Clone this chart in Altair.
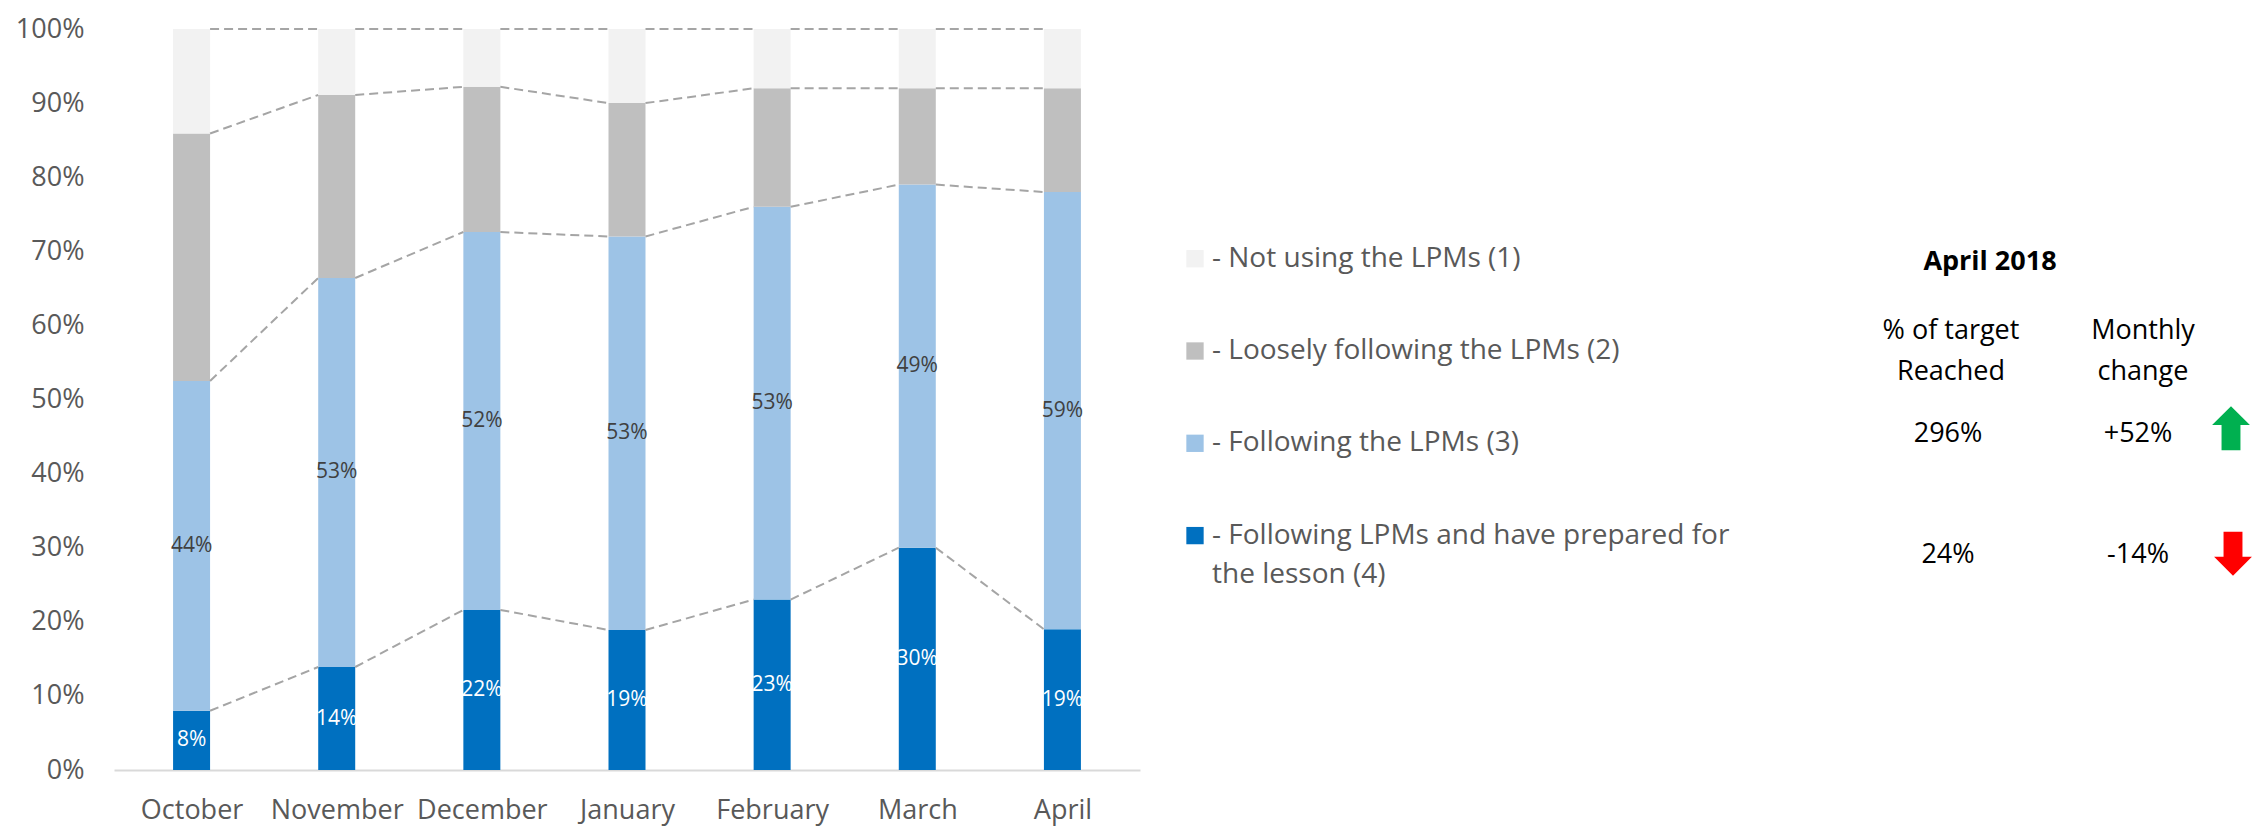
import altair as alt
import pandas as pd

# ---------------- data ----------------
months = ["October", "November", "December", "January", "February", "March", "April"]
prepared = [8.0, 13.9, 21.6, 18.9, 23.0, 30.0, 19.0]
following = [44.5, 52.5, 51.0, 53.1, 53.0, 49.0, 59.0]
loosely = [33.4, 24.7, 19.6, 18.0, 16.0, 13.0, 14.0]
not_using = [14.1, 8.9, 7.8, 10.0, 8.0, 8.0, 8.0]
prepared_labels = ["8%", "14%", "22%", "19%", "23%", "30%", "19%"]
following_labels = ["44%", "53%", "52%", "53%", "53%", "49%", "59%"]
y_ticks = [0, 10, 20, 30, 40, 50, 60, 70, 80, 90, 100]

series_names = ["prepared", "following", "loosely", "not_using"]
series_colors = ["#0070C0", "#9DC3E6", "#BFBFBF", "#F2F2F2"]

legend_lines = [
    ["- Not using the LPMs (1)"],
    ["- Loosely following the LPMs (2)"],
    ["- Following the LPMs (3)"],
    ["- Following LPMs and have prepared for", "the lesson (4)"],
]
legend_colors = ["#F2F2F2", "#BFBFBF", "#9DC3E6", "#0070C0"]

summary_title = "April 2018"
summary_headers = [["% of target", "Reached"], ["Monthly", "change"]]
reached = ["296%", "24%"]
change = ["+52%", "-14%"]

# ---------------- tables ----------------
rows = []
for i, m in enumerate(months):
    start = 0.0
    for s, vals in zip(series_names, [prepared, following, loosely, not_using]):
        v = vals[i]
        rows.append({"idx": i, "month": m, "series": s, "start": start,
                     "end": start + v, "mid": start + v / 2})
        start += v
bars_df = pd.DataFrame(rows)

lab_rows = []
for s, labs in [("prepared", prepared_labels), ("following", following_labels)]:
    sub = bars_df[bars_df.series == s].sort_values("idx")
    for (_, r), lab in zip(sub.iterrows(), labs):
        lab_rows.append({"idx": int(r["idx"]), "mid": r["mid"], "label": lab, "series": s})
labels_df = pd.DataFrame(lab_rows)

line_rows = []
for s in series_names:
    ends = bars_df[bars_df.series == s].sort_values("idx")["end"].tolist()
    for i in range(len(months) - 1):
        line_rows.append({"level": s, "idx": i, "idx2": i + 1,
                          "start": min(ends[i], 100.0), "end": min(ends[i + 1], 100.0)})
lines_df = pd.DataFrame(line_rows)

# ---------------- main chart ----------------
W1, H1 = 1026, 741
BAR_W = 37
xscale = alt.Scale(domain=[-0.5, len(months) - 0.5], nice=False, zero=False)
yscale = alt.Scale(domain=[0, 100], nice=False)

month_expr = "[" + ",".join("'" + m + "'" for m in months) + "][datum.value]"

x_axis = alt.Axis(values=list(range(len(months))), labelExpr=month_expr,
                  title=None, grid=False, ticks=False,
                  domainColor="#D9D9D9", domainWidth=2,
                  labelFontSize=27, labelColor="#595959", labelPadding=27,
                  labelOverlap=False, labelFlush=False)
y_axis = alt.Axis(values=y_ticks, labelExpr="datum.value + '%'",
                  title=None, grid=False, ticks=False, domain=False,
                  labelFontSize=27, labelColor="#595959", labelPadding=30,
                  labelFlush=False, labelOverlap=False)

X = alt.X("idx:Q", scale=xscale, axis=x_axis)

bars = alt.Chart(bars_df).mark_bar(width=BAR_W).encode(
    x=X,
    y=alt.Y("start:Q", scale=yscale, axis=y_axis),
    y2="end:Q",
    color=alt.Color("series:N", scale=alt.Scale(domain=series_names, range=series_colors),
                    legend=None),
)

series_lines = alt.Chart(lines_df).mark_rule(
    color="#A5A5A5", strokeWidth=2, strokeDash=[9, 5],
    xOffset=BAR_W / 2, x2Offset=-BAR_W / 2,
).encode(
    x=X,
    x2="idx2:Q",
    y=alt.Y("start:Q", scale=yscale, axis=y_axis),
    y2="end:Q",
)

lab_dark = alt.Chart(labels_df).transform_filter(alt.datum.series == "prepared").mark_text(
    fontSize=21, color="#FFFFFF", baseline="middle", align="center"
).encode(
    x=X,
    y=alt.Y("mid:Q", scale=yscale, axis=y_axis),
    text="label:N",
)
lab_light = alt.Chart(labels_df).transform_filter(alt.datum.series == "following").mark_text(
    fontSize=21, color="#404040", baseline="middle", align="center"
).encode(
    x=X,
    y=alt.Y("mid:Q", scale=yscale, axis=y_axis),
    text="label:N",
)

left = alt.layer(bars, series_lines, lab_dark, lab_light).properties(width=W1, height=H1)

# ---------------- right panel (legend + summary) ----------------
W2, H2 = 1100, H1
px = alt.Scale(domain=[0, W2], range=[0, W2])
py = alt.Scale(domain=[0, H2], range=[0, H2])

# layout constants (pixels inside the right panel)
LEG_SQ_X, LEG_TXT_X, LEG_Y0, LEG_DY, LEG_LH = 48, 65, 229.7, 92.3, 39
TITLE_X, TITLE_Y = 843, 232.7
HEAD_X, HEAD_Y = [804, 996], [301.7, 342.7]
VAL_X, VAL_Y = [801, 991], [404.7, 526.2]
ARROW_X, ARROW_Y = [1084, 1086], [399.2, 524.7]

sq_df = pd.DataFrame({"px": [LEG_SQ_X] * len(legend_colors),
                      "py": [LEG_Y0 + LEG_DY * r for r in range(len(legend_colors))],
                      "color": legend_colors})
leg_txt_rows = []
for r, lines in enumerate(legend_lines):
    for k, t in enumerate(lines):
        leg_txt_rows.append({"px": LEG_TXT_X, "py": LEG_Y0 + LEG_DY * r + LEG_LH * k, "text": t})
leg_txt_df = pd.DataFrame(leg_txt_rows)

tab_rows = []
for c, hdr in enumerate(summary_headers):
    for k, t in enumerate(hdr):
        tab_rows.append({"px": HEAD_X[c], "py": HEAD_Y[k], "text": t})
for r in range(2):
    tab_rows.append({"px": VAL_X[0], "py": VAL_Y[r], "text": reached[r]})
    tab_rows.append({"px": VAL_X[1], "py": VAL_Y[r], "text": change[r]})
tab_df = pd.DataFrame(tab_rows)
title_df = pd.DataFrame({"px": [TITLE_X], "py": [TITLE_Y], "text": [summary_title]})

enc_xy = dict(x=alt.X("px:Q", scale=px, axis=None), y=alt.Y("py:Q", scale=py, axis=None))

squares = alt.Chart(sq_df).mark_point(shape="square", filled=True, size=300, opacity=1,
                                      strokeWidth=0).encode(
    color=alt.Color("color:N", scale=None), **enc_xy)
leg_text = alt.Chart(leg_txt_df).mark_text(fontSize=28, color="#595959", align="left",
                                           baseline="middle").encode(text="text:N", **enc_xy)
tab_text = alt.Chart(tab_df).mark_text(fontSize=27, color="#000000", align="center",
                                       baseline="middle").encode(text="text:N", **enc_xy)
title_text = alt.Chart(title_df).mark_text(fontSize=27, fontWeight="bold", color="#000000",
                                           align="center", baseline="middle").encode(
    text="text:N", **enc_xy)

UP = "M0,-1L0.86,-0.14L0.43,-0.14L0.43,1L-0.43,1L-0.43,-0.14L-0.86,-0.14Z"
DOWN = "M0,1L0.86,0.14L0.43,0.14L0.43,-1L-0.43,-1L-0.43,0.14L-0.86,0.14Z"
up_df = pd.DataFrame({"px": [ARROW_X[0]], "py": [ARROW_Y[0]]})
down_df = pd.DataFrame({"px": [ARROW_X[1]], "py": [ARROW_Y[1]]})
up_arrow = alt.Chart(up_df).mark_point(shape=UP, filled=True, size=1936, color="#00B050",
                                       opacity=1, strokeWidth=0).encode(**enc_xy)
down_arrow = alt.Chart(down_df).mark_point(shape=DOWN, filled=True, size=1936, color="#FF0000",
                                           opacity=1, strokeWidth=0).encode(**enc_xy)

right = alt.layer(squares, leg_text, title_text, tab_text, up_arrow, down_arrow).properties(
    width=W2, height=H2)

chart = alt.hconcat(left, right, spacing=7).properties(
    padding={"left": 7, "top": 7, "right": 0, "bottom": 3}
).configure(font="Open Sans").configure_view(stroke=None)

chart.save("out.html", embed_options={"renderer": "svg", "actions": False})
